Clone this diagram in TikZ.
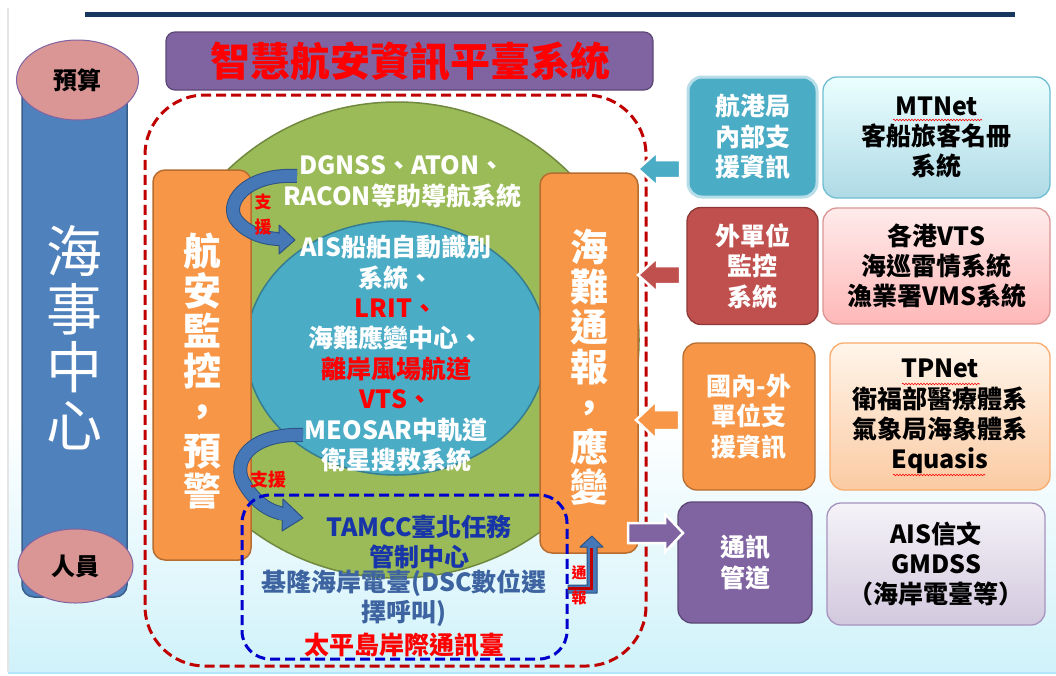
\documentclass[tikz,border=0pt]{standalone}
\usepackage{fontspec}
\setmainfont{Noto Sans CJK TC}
\usetikzlibrary{shapes.geometric,decorations.pathmorphing}
\definecolor{navy}{HTML}{17375E}
\definecolor{bgcyan}{HTML}{D0F2FA}
\definecolor{titlepur}{HTML}{8064A2}
\definecolor{titlepurd}{HTML}{5C4776}
\definecolor{colblue}{HTML}{4F81BD}
\definecolor{colblued}{HTML}{385D8A}
\definecolor{rosefill}{HTML}{D99694}
\definecolor{orng}{HTML}{F79646}
\definecolor{orngd}{HTML}{B66D31}
\definecolor{grn}{HTML}{9BBB59}
\definecolor{grnd}{HTML}{71893F}
\definecolor{aqua}{HTML}{4BACC6}
\definecolor{aquad}{HTML}{357D91}
\definecolor{aqual}{HTML}{B7DEE8}
\definecolor{dred}{HTML}{C0504D}
\definecolor{dredd}{HTML}{8C3836}
\definecolor{dashred}{HTML}{C00000}
\definecolor{dashblue}{HTML}{0000CC}
\definecolor{tamblue}{HTML}{1734A8}
\definecolor{steel}{HTML}{3D64A0}
\definecolor{arrblue}{HTML}{4677B6}
\definecolor{arrblued}{HTML}{2C5284}
\begin{document}
\begin{tikzpicture}[x=1pt,y=-1pt,
  txt/.style={font=\bfseries\fontsize{25}{30.4}\selectfont, align=center, inner sep=0pt},
  vtxt/.style={font=\bfseries\fontsize{38}{40}\selectfont, align=center, inner sep=0pt, text=white},
  box/.style={rounded corners=14pt, line width=1.3pt, inner sep=0pt, align=center,
    font=\bfseries\fontsize{25}{30.4}\selectfont},
  obox/.style={rounded corners=12pt, fill=orng, draw=orngd, line width=1.5pt, inner sep=0pt},
  blk/.style={draw=white, line width=2.5pt, line join=miter},
  dashline/.style={line width=3pt, dash pattern=on 10pt off 5pt},
  redlab/.style={text=red, font=\bfseries\fontsize{17}{25}\selectfont, align=center, inner sep=0pt},
  squig/.style={red, line width=0.6pt, decorate, decoration={snake, amplitude=0.8pt, segment length=3pt}}
]
\useasboundingbox (0,0) rectangle (1056,675);
\fill[white] (0,0) rectangle (1056,675);
\shade[top color=white, bottom color=bgcyan] (8,420) rectangle (1056,672);
\draw[gray!20, line width=2.5pt] (8,8) -- (8,672);
\draw[cyan!30, line width=1.5pt] (8,673) -- (1056,673);

% top line
\fill[navy] (85,12) rectangle (1015,17);

% title
\node[rounded corners=9pt, fill=titlepur, draw=titlepurd, line width=1.2pt,
  minimum width=487pt, minimum height=58pt, inner sep=0pt] (title) at (409.5,61) {};
\node[text=red, font=\bfseries\fontsize{40}{40}\selectfont, inner sep=0pt] (titletxt) at (410,61) {智慧航安資訊平臺系統};

% left column
\node[rounded corners=12pt, fill=colblue, draw=colblued, line width=1.5pt,
  minimum width=105pt, minimum height=522pt, inner sep=0pt] (col) at (74.5,336) {};
\node[text=white, font=\fontsize{56}{58}\selectfont, align=center, inner sep=0pt] (coltxt) at (74,338) {海\\事\\中\\心};
\node[ellipse, fill=rosefill, draw=titlepur, line width=1pt, minimum width=122pt, minimum height=80pt,
  font=\bfseries\fontsize{24}{24}\selectfont, inner sep=0pt] (budget) at (77.5,80) {預算};
\node[ellipse, fill=rosefill, draw=titlepur, line width=1pt, minimum width=115pt, minimum height=74pt,
  font=\bfseries\fontsize{24}{24}\selectfont, inner sep=0pt] (staff) at (75.5,566) {人員};

% red dashed frame
\node[draw=dashred, dashline, rounded corners=60pt, minimum width=501pt, minimum height=571pt, inner sep=0pt] (frame) at (395.5,380.5) {};

% circles
\node[ellipse, fill=grn, draw=grnd, line width=1.5pt, minimum width=484pt, minimum height=476pt, inner sep=0pt] (green) at (397,340) {};
\node[ellipse, fill=aqua, draw=aquad, line width=1.5pt, minimum width=300pt, minimum height=254pt, inner sep=0pt] (bluec) at (396,348) {};

\node[txt, text=white] (dgnss) at (402,182) {DGNSS、ATON、\\RACON等助導航系統};
\node[txt, text=white] (ais) at (396,353.5) {AIS船舶自動識別\\系統、\\{\color{red}LRIT、}\\海難應變中心、\\{\color{red}離岸風場航道}\\{\color{red}VTS、}\\MEOSAR中軌道\\衛星搜救系統};

% orange columns
\node[obox, minimum width=98pt, minimum height=390pt] (lbox) at (202,365) {};
\node[vtxt] (ltxt) at (202,371) {航\\安\\監\\控\\，\\預\\警};
\node[obox, minimum width=98pt, minimum height=380pt] (rbox) at (589,363) {};
\node[vtxt] (rtxt) at (589,367) {海\\難\\通\\報\\，\\應\\變};

% curved arrow 1
\draw[draw=arrblued, double=arrblue, double distance=12pt, line width=1pt]
  (297,176) .. controls (245,173) and (222,205) .. (238,222) .. controls (249,234) and (265,239) .. (281,239);
\draw[fill=arrblue, draw=arrblued, line width=1pt, line join=round] (279,225) -- (295,240) -- (279,254) -- cycle;
\fill[arrblue] (275,233.5) rectangle (281,244.5);
\node[redlab] (sup1) at (263,214.5) {支\\援};

% curved arrow 2
\draw[draw=arrblued, double=arrblue, double distance=12pt, line width=1pt]
  (303,435) .. controls (250,433) and (230,462) .. (245,485) .. controls (256,503) and (270,512) .. (285,514);
\draw[fill=arrblue, draw=arrblued, line width=1pt, line join=round] (283,499) -- (303,518) -- (282,531) -- cycle;
\fill[arrblue] (279,508) rectangle (285,520);
\node[redlab, font=\bfseries\fontsize{18}{18}\selectfont] (sup2) at (268,480) {支援};

% blue dashed box
\node[draw=dashblue, dashline, rounded corners=28pt, minimum width=325pt, minimum height=164pt, inner sep=0pt] (bbox) at (404.5,577) {};
\node[txt, text=tamblue] (tamcc) at (419,542) {TAMCC臺北任務\\管制中心};
\node[txt, text=steel] (keelung) at (404,598) {基隆海岸電臺(DSC數位選\\擇呼叫)};
\node[txt, text=red] (taiping) at (404,645) {太平島岸際通訊臺};

% small report arrow
\coordinate (rep) at (592,536);
\draw[fill=arrblue, draw=arrblued, line width=1pt, line join=round]
  (rep) -- ++(11,11) -- ++(-6,0) -- ++(0,46) -- ++(-29,0) -- ++(0,-8) -- ++(19,0) -- ++(0,-38) -- ++(-7,0) -- cycle;
\draw[dashred, line width=3.5pt] (568,588.5) -- (591.5,588.5) -- (591.5,548);
\node[redlab, font=\bfseries\fontsize{15}{25}\selectfont] (rep lab) at (579,585.5) {通\\報};

% right column 1
\node[box, fill=aqua, draw=aqual, line width=3pt, text=white, minimum width=129pt, minimum height=120pt] (b1) at (752.5,137) {航港局\\內部支\\援資訊};
\node[box, fill=dred, draw=dredd, text=white, minimum width=131pt, minimum height=117pt] (b2) at (752.5,266) {外單位\\監控\\系統};
\node[box, fill=orng, draw=orngd, text=white, minimum width=132pt, minimum height=147pt] (b3) at (749,416.5) {國內-外\\單位支\\援資訊};
\node[box, fill=titlepur, draw=titlepurd, text=white, minimum width=134pt, minimum height=121pt] (b4) at (745,562.5) {通訊\\管道};

% right column 2
\node[box, top color=cyan!8, bottom color=aqua!45, draw=aqua!80, minimum width=227pt, minimum height=121pt] (c1) at (936.5,137.5) {MTNet\\客船旅客名冊\\系統};
\node[box, top color=red!8, bottom color=red!28, draw=dred!60, minimum width=227pt, minimum height=116pt] (c2) at (936.5,266) {各港VTS\\海巡雷情系統\\漁業署VMS系統};
\node[box, top color=orange!8, bottom color=orng!50, draw=orng!80, minimum width=220pt, minimum height=147pt] (c3) at (940,416.5) {TPNet\\衛福部醫療體系\\氣象局海象體系\\Equasis};
\node[box, top color=titlepur!8, bottom color=titlepur!35, draw=titlepur!70, minimum width=218pt, minimum height=122pt] (c4) at (936,564) {AIS信文\\GMDSS\\（海岸電臺等）};

\draw[squig] (893,120) -- (982,120);
\draw[squig] (902,384) -- (980,384);
\draw[squig] (893,475) -- (985,475);

% block arrows
\coordinate (a1) at (638,169);
\draw[blk, fill=aqua] (a1) -- ++(19,-17) -- ++(0,8) -- ++(23,0) -- ++(0,18) -- ++(-23,0) -- ++(0,8) -- cycle;
\coordinate (a2) at (638,275);
\draw[blk, fill=dred] (a2) -- ++(19,-17) -- ++(0,8) -- ++(23,0) -- ++(0,18) -- ++(-23,0) -- ++(0,8) -- cycle;
\coordinate (a3) at (636,420);
\draw[blk, fill=orng] (a3) -- ++(20,-19) -- ++(0,9) -- ++(23,0) -- ++(0,20) -- ++(-23,0) -- ++(0,9) -- cycle;
\coordinate (a4) at (683,533);
\draw[blk, fill=titlepur] (a4) -- ++(-18,-19) -- ++(0,9) -- ++(-37,0) -- ++(0,20) -- ++(37,0) -- ++(0,9) -- cycle;
\end{tikzpicture}
\end{document}
